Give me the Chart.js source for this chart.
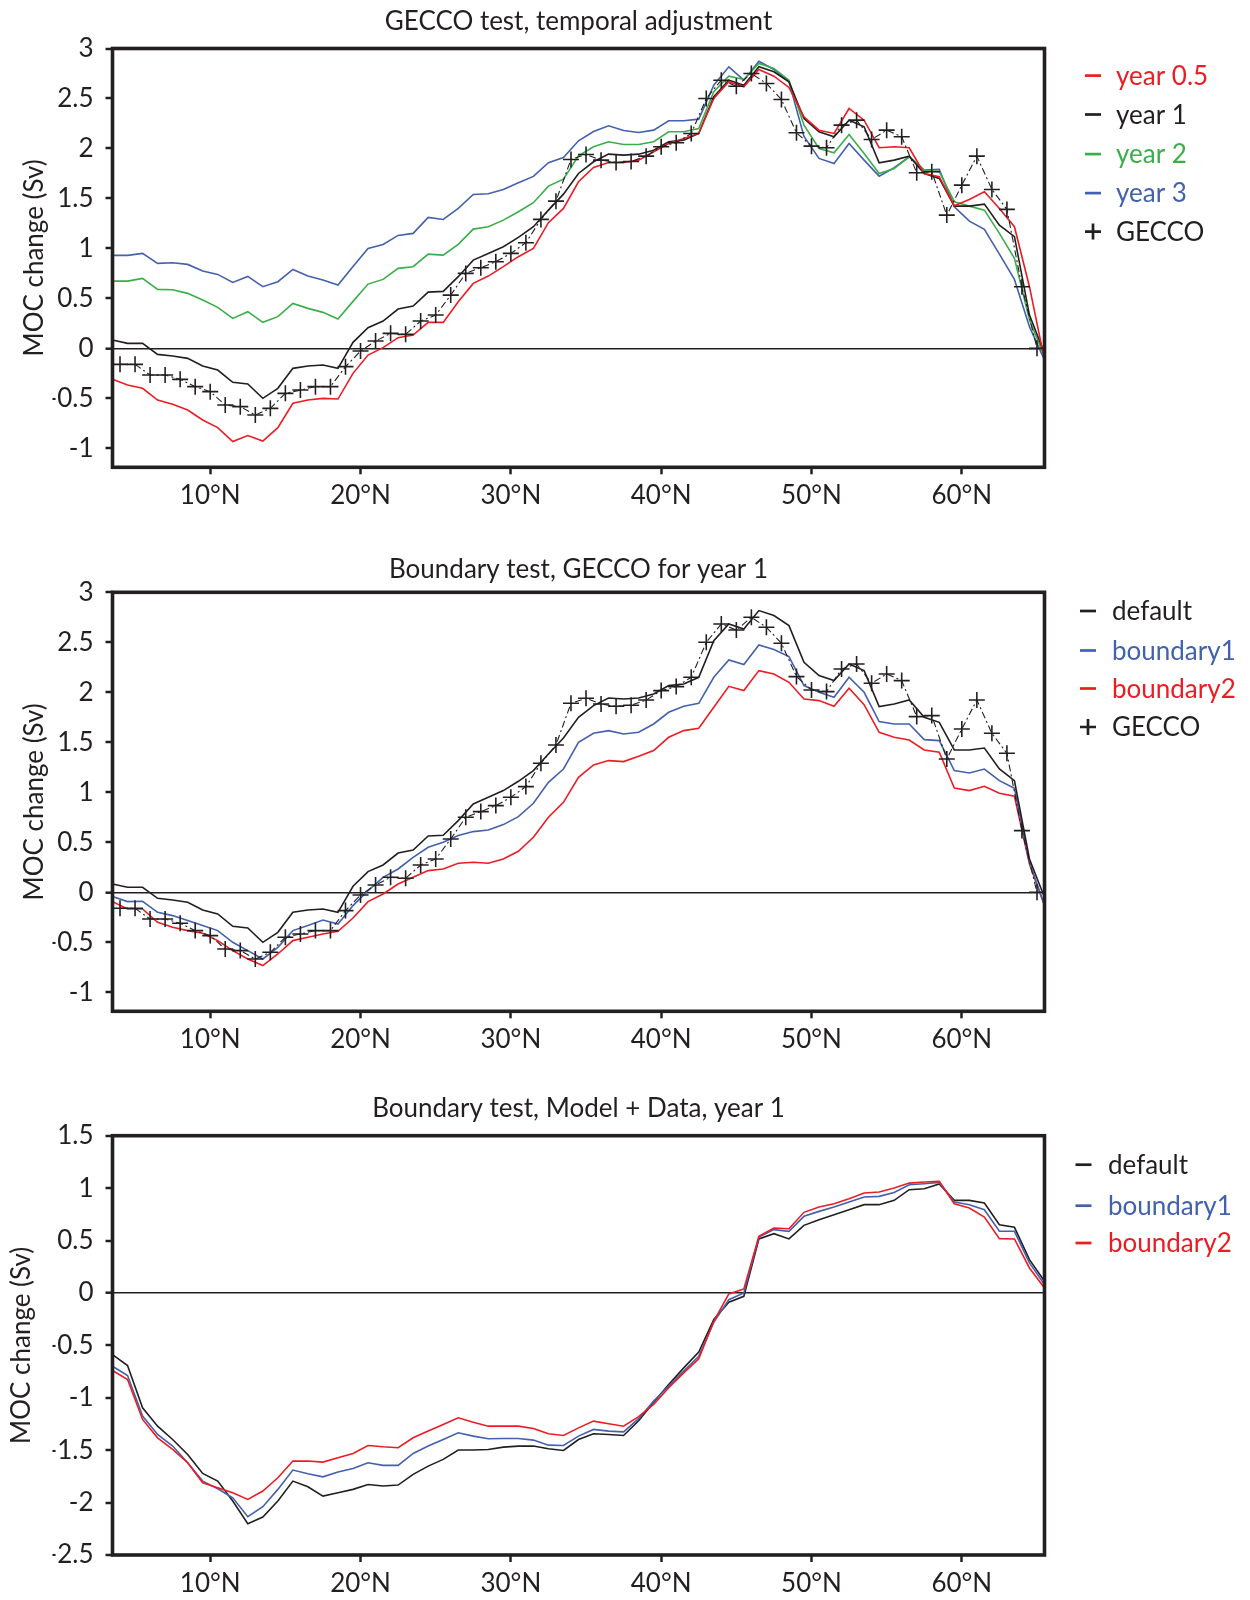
<!DOCTYPE html>
<html>
<head>
<meta charset="utf-8">
<title>MOC change tests</title>
<script src="https://cdn.jsdelivr.net/npm/chart.js@4.4.1/dist/chart.umd.min.js"></script>
<style>
  html, body { margin: 0; padding: 0; background: #ffffff; }
  #wrap { position: relative; width: 1250px; height: 1600px; }
  #wrap canvas { position: absolute; left: 0; }
</style>
</head>
<body>
<div id="wrap">
  <canvas id="c1" width="1250" height="530" style="top:0px;width:1250px;height:530px"></canvas>
  <canvas id="c2" width="1250" height="530" style="top:540px;width:1250px;height:530px"></canvas>
  <canvas id="c3" width="1250" height="530" style="top:1070px;width:1250px;height:530px"></canvas>
</div>
<script>
// ---- latitude grids ----
const latModel = [3.5, 4.5, 5.5, 6.5, 7.5, 8.5, 9.5, 10.5, 11.5, 12.5, 13.5, 14.5, 15.5, 16.5, 17.5, 18.5,
  19.5, 20.5, 21.5, 22.5, 23.5, 24.5, 25.5, 26.5, 27.5, 28.5, 29.5, 30.5, 31.5, 32.5, 33.5, 34.5, 35.5,
  36.5, 37.5, 38.5, 39.5, 40.5, 41.5, 42.5, 43.5, 44.5, 45.5, 46.5, 47.5, 48.5, 49.5, 50.5, 51.5, 52.5,
  53.5, 54.5, 55.5, 56.5, 57.5, 58.5, 59.5, 60.5, 61.5, 62.5, 63.5, 64.5, 65.5];
const latGecco = [4, 5, 6, 7, 8, 9, 10, 11, 12, 13, 14, 15, 16, 17, 18, 19, 20, 21, 22, 23, 24, 25, 26,
  27, 28, 29, 30, 31, 32, 33, 34, 35, 36, 37, 38, 39, 40, 41, 42, 43, 44, 45, 46, 47, 48, 49, 50, 51,
  52, 53, 54, 55, 56, 57, 58, 59, 60, 61, 62, 63, 64, 65];

// ---- tick labels ----
const xTicks = [10, 20, 30, 40, 50, 60];
const yTicksGecco = [-1, -0.5, 0, 0.5, 1, 1.5, 2, 2.5, 3];
const yTicksModelData = [-2.5, -2, -1.5, -1, -0.5, 0, 0.5, 1, 1.5];

// ---- GECCO test, temporal adjustment (Sv) ----
const year05 = [-0.31, -0.367, -0.40, -0.517, -0.56, -0.617, -0.717, -0.793, -0.933, -0.873, -0.927, -0.793,
  -0.55, -0.517, -0.50, -0.507, -0.25, -0.067, 0.007, 0.107, 0.133, 0.26, 0.26, 0.467, 0.65, 0.723, 0.817,
  0.917, 1.0, 1.257, 1.40, 1.667, 1.81, 1.86, 1.86, 1.883, 1.967, 2.05, 2.1, 2.15, 2.5, 2.667, 2.617, 2.79,
  2.723, 2.61, 2.317, 2.183, 2.15, 2.4, 2.283, 2.007, 2.017, 2.007, 1.75, 1.717, 1.427, 1.49, 1.567, 1.40,
  1.217, 0.617, -0.117];
const year1 = [0.083, 0.05, 0.05, -0.06, -0.077, -0.10, -0.177, -0.217, -0.34, -0.357, -0.50, -0.40, -0.20,
  -0.177, -0.167, -0.20, 0.06, 0.207, 0.273, 0.393, 0.423, 0.563, 0.57, 0.717, 0.883, 0.95, 1.017, 1.11,
  1.217, 1.383, 1.543, 1.75, 1.867, 1.943, 1.933, 1.943, 1.983, 2.067, 2.083, 2.15, 2.517, 2.683, 2.633,
  2.817, 2.767, 2.667, 2.3, 2.167, 2.117, 2.283, 2.217, 1.857, 1.883, 1.923, 1.75, 1.70, 1.423, 1.423,
  1.443, 1.233, 1.117, 0.333, -0.05];
const year2 = [0.673, 0.673, 0.70, 0.59, 0.587, 0.55, 0.483, 0.41, 0.30, 0.367, 0.26, 0.317, 0.45, 0.40,
  0.36, 0.293, 0.47, 0.643, 0.69, 0.80, 0.817, 0.943, 0.933, 1.04, 1.193, 1.217, 1.283, 1.367, 1.457,
  1.623, 1.693, 1.927, 2.017, 2.067, 2.04, 2.04, 2.067, 2.167, 2.167, 2.2, 2.567, 2.723, 2.69, 2.85, 2.8,
  2.683, 2.233, 2.0, 1.957, 2.14, 1.95, 1.75, 1.8, 1.917, 1.783, 1.767, 1.467, 1.423, 1.383, 1.15, 0.9,
  0.283, -0.083];
const year3 = [0.93, 0.93, 0.95, 0.85, 0.857, 0.84, 0.773, 0.74, 0.66, 0.72, 0.617, 0.667, 0.79, 0.723,
  0.683, 0.633, 0.82, 1.0, 1.04, 1.13, 1.15, 1.31, 1.29, 1.4, 1.54, 1.547, 1.59, 1.657, 1.72, 1.857, 1.91,
  2.077, 2.17, 2.227, 2.18, 2.16, 2.183, 2.277, 2.277, 2.293, 2.633, 2.817, 2.683, 2.873, 2.79, 2.667,
  2.12, 1.9, 1.85, 2.05, 1.883, 1.723, 1.807, 1.917, 1.783, 1.79, 1.417, 1.273, 1.19, 0.943, 0.69, 0.217,
  -0.117];
const gecco = [-0.16, -0.16, -0.267, -0.267, -0.31, -0.383, -0.433, -0.567, -0.583, -0.667, -0.60, -0.45,
  -0.417, -0.383, -0.383, -0.183, -0.027, 0.073, 0.15, 0.14, 0.273, 0.333, 0.533, 0.75, 0.807, 0.867, 0.95,
  1.057, 1.29, 1.473, 1.89, 1.94, 1.883, 1.86, 1.87, 1.923, 2.017, 2.057, 2.15, 2.5, 2.683, 2.623, 2.75,
  2.65, 2.49, 2.157, 2.023, 2.007, 2.233, 2.283, 2.09, 2.183, 2.117, 1.757, 1.767, 1.333, 1.633, 1.923,
  1.59, 1.39, 0.617, 0.0];

// ---- Boundary test, GECCO for year 1 (Sv); "default" is year1 ----
const boundary1Gecco = [-0.043, -0.093, -0.09, -0.2, -0.233, -0.283, -0.333, -0.383, -0.5, -0.583, -0.667,
  -0.55, -0.383, -0.333, -0.277, -0.317, -0.133, 0.017, 0.15, 0.233, 0.35, 0.45, 0.5, 0.567, 0.607, 0.623,
  0.677, 0.757, 0.89, 1.1, 1.233, 1.5, 1.59, 1.617, 1.583, 1.6, 1.683, 1.8, 1.86, 1.89, 2.15, 2.323, 2.277,
  2.473, 2.427, 2.357, 2.067, 2.0, 1.95, 2.15, 2.0, 1.707, 1.683, 1.683, 1.527, 1.517, 1.217, 1.193, 1.233,
  1.117, 1.04, 0.3, -0.133];
const boundary2Gecco = [-0.093, -0.167, -0.167, -0.3, -0.35, -0.383, -0.41, -0.483, -0.583, -0.667, -0.733,
  -0.617, -0.483, -0.45, -0.417, -0.39, -0.257, -0.093, -0.017, 0.083, 0.15, 0.217, 0.233, 0.29, 0.3, 0.29,
  0.333, 0.41, 0.55, 0.75, 0.9, 1.15, 1.273, 1.317, 1.307, 1.36, 1.417, 1.55, 1.617, 1.64, 1.85, 2.06, 2.017,
  2.217, 2.183, 2.1, 1.933, 1.917, 1.86, 2.04, 1.877, 1.6, 1.55, 1.523, 1.423, 1.4, 1.043, 1.017, 1.06,
  0.99, 0.96, 0.283, -0.133];

// ---- Boundary test, Model + Data, year 1 (Sv) ----
const defaultMD = [-0.588, -0.693, -1.096, -1.271, -1.398, -1.541, -1.722, -1.795, -1.985, -2.201, -2.138,
  -1.985, -1.795, -1.849, -1.938, -1.906, -1.874, -1.827, -1.842, -1.833, -1.731, -1.652, -1.588, -1.499,
  -1.499, -1.493, -1.471, -1.461, -1.461, -1.487, -1.503, -1.398, -1.344, -1.35, -1.36, -1.22, -1.042,
  -0.874, -0.715, -0.565, -0.254, -0.089, -0.032, 0.515, 0.565, 0.515, 0.645, 0.699, 0.746, 0.794, 0.842,
  0.842, 0.883, 0.985, 0.994, 1.039, 0.883, 0.883, 0.858, 0.651, 0.626, 0.318, 0.111];
const boundary1MD = [-0.699, -0.788, -1.175, -1.35, -1.461, -1.62, -1.795, -1.868, -1.954, -2.135, -2.039,
  -1.874, -1.69, -1.725, -1.754, -1.709, -1.674, -1.62, -1.645, -1.645, -1.531, -1.461, -1.398, -1.334,
  -1.366, -1.391, -1.388, -1.388, -1.404, -1.452, -1.455, -1.366, -1.302, -1.318, -1.325, -1.2, -1.032,
  -0.889, -0.746, -0.604, -0.28, -0.064, 0.0, 0.534, 0.604, 0.588, 0.731, 0.778, 0.82, 0.867, 0.915, 0.921,
  0.959, 1.032, 1.042, 1.055, 0.867, 0.842, 0.794, 0.588, 0.588, 0.286, 0.079];
const boundary2MD = [-0.74, -0.826, -1.207, -1.382, -1.493, -1.62, -1.811, -1.858, -1.906, -1.97, -1.89,
  -1.763, -1.604, -1.604, -1.614, -1.572, -1.531, -1.455, -1.468, -1.477, -1.382, -1.318, -1.255, -1.191,
  -1.233, -1.271, -1.271, -1.271, -1.293, -1.344, -1.36, -1.287, -1.223, -1.248, -1.271, -1.18, -1.064,
  -0.905, -0.762, -0.629, -0.27, -0.01, 0.038, 0.54, 0.619, 0.613, 0.769, 0.82, 0.851, 0.899, 0.953, 0.963,
  1.001, 1.048, 1.058, 1.064, 0.851, 0.81, 0.724, 0.518, 0.515, 0.238, 0.048];

// ---- styling ----
const INK = '#231f20';
const RED = '#ed1c24';
const BLUE = '#4361ac';
const GREEN = '#3aae49';
const FONT = 'Lato, "Open Sans", sans-serif';
const FS = 26;
const CAP = FS * 0.72;

const pts = (xs, ys) => xs.map((x, i) => ({ x, y: ys[i] }));

function modelLine(label, lats, vals, color, order) {
  return {
    label, data: pts(lats, vals), borderColor: color, backgroundColor: color,
    borderWidth: 1.6, pointRadius: 0, tension: 0, fill: false, order, legendColor: color
  };
}
function geccoLine(label) {
  return {
    label, data: pts(latGecco, gecco), borderColor: INK, backgroundColor: INK,
    borderWidth: 1.1, borderDash: [7, 3, 2, 3], pointStyle: 'cross', pointRadius: 8,
    pointBorderWidth: 1.6, pointBorderColor: INK, tension: 0, fill: false, order: 0,
    legendColor: INK, legendMark: 'plus'
  };
}

// frame, zero line is a grid line; titles, axis title and legend are drawn here
const panelDecor = {
  id: 'panelDecor',
  afterDatasetsDraw(chart) {
    const { ctx, chartArea: a } = chart;
    ctx.save();
    ctx.strokeStyle = INK;
    ctx.lineWidth = 3.6;
    ctx.strokeRect(a.left, a.top, a.right - a.left, a.bottom - a.top);
    ctx.restore();
  },
  afterDraw(chart, args, o) {
    const { ctx, chartArea: a } = chart;
    ctx.save();
    ctx.font = FS + 'px ' + FONT;
    ctx.fillStyle = INK;
    ctx.textAlign = 'center';
    ctx.textBaseline = 'alphabetic';
    ctx.fillText(o.title, (a.left + a.right) / 2, o.titleY + CAP / 2);

    ctx.save();
    ctx.translate(o.axisX, (a.top + a.bottom) / 2);
    ctx.rotate(-Math.PI / 2);
    ctx.fillText(o.axisTitle, 0, CAP / 2);
    ctx.restore();

    ctx.textAlign = 'left';
    chart.data.datasets.forEach((ds, i) => {
      const y = o.legendY[i];
      ctx.strokeStyle = ds.legendColor;
      ctx.lineWidth = 2.7;
      ctx.beginPath();
      ctx.moveTo(o.markX, y);
      ctx.lineTo(o.markX + 16, y);
      if (ds.legendMark === 'plus') {
        ctx.moveTo(o.markX + 8, y - 8);
        ctx.lineTo(o.markX + 8, y + 8);
      }
      ctx.stroke();
      ctx.fillStyle = ds.legendColor;
      ctx.fillText(ds.label, o.textX, y + CAP / 2);
    });
    ctx.restore();
  }
};

function makeChart(id, cfg) {
  return new Chart(document.getElementById(id), {
    type: 'line',
    data: { datasets: cfg.datasets },
    options: {
      responsive: false,
      animation: false,
      events: [],
      layout: { padding: cfg.padding },
      plugins: {
        legend: { display: false },
        tooltip: { enabled: false },
        title: { display: false },
        panelDecor: cfg.decor
      },
      scales: {
        x: {
          type: 'linear', min: 3.5, max: 65.5,
          afterBuildTicks: s => { s.ticks = xTicks.map(v => ({ value: v })); },
          afterFit: s => { s.height = cfg.xHeight; },
          border: { display: false },
          grid: { drawOnChartArea: false, drawTicks: true, tickLength: 7, tickWidth: 2.5, tickColor: INK },
          ticks: {
            font: { family: FONT, size: FS }, color: INK, padding: 6,
            maxRotation: 0, autoSkip: false, callback: v => v + '°N'
          }
        },
        y: {
          type: 'linear', min: cfg.yMin, max: cfg.yMax,
          afterBuildTicks: s => { s.ticks = cfg.yTicks.map(v => ({ value: v })); },
          afterFit: s => { s.width = 60; },
          border: { display: false },
          grid: {
            color: c => (c.tick && c.tick.value === 0) ? INK : 'rgba(0,0,0,0)',
            lineWidth: c => (c.tick && c.tick.value === 0) ? 1.4 : 0,
            drawTicks: true, tickLength: 7, tickWidth: 2.5, tickColor: INK
          },
          ticks: {
            font: { family: FONT, size: FS }, color: INK, padding: 12,
            autoSkip: false, callback: v => String(v)
          }
        }
      }
    },
    plugins: [panelDecor]
  });
}

function build() {
  makeChart('c1', {
    datasets: [
      modelLine('year 0.5', latModel, year05, RED, 1),
      modelLine('year 1', latModel, year1, INK, 2),
      modelLine('year 2', latModel, year2, GREEN, 3),
      modelLine('year 3', latModel, year3, BLUE, 4),
      geccoLine('GECCO')
    ],
    padding: { left: 52.5, right: 205.5, top: 48.5, bottom: 12.7 },
    xHeight: 50, yMin: -1.19, yMax: 3, yTicks: yTicksGecco,
    decor: {
      title: 'GECCO test, temporal adjustment', titleY: 20.5,
      axisTitle: 'MOC change (Sv)', axisX: 34,
      legendY: [75.6, 114.5, 154.1, 193.1, 231.6], markX: 1085, textX: 1116
    }
  });

  makeChart('c2', {
    datasets: [
      modelLine('default', latModel, year1, INK, 1),
      modelLine('boundary1', latModel, boundary1Gecco, BLUE, 2),
      modelLine('boundary2', latModel, boundary2Gecco, RED, 3),
      geccoLine('GECCO')
    ],
    padding: { left: 52.5, right: 205.5, top: 52.3, bottom: 8.7 },
    xHeight: 50, yMin: -1.19, yMax: 3, yTicks: yTicksGecco,
    decor: {
      title: 'Boundary test, GECCO for year 1', titleY: 28.2,
      axisTitle: 'MOC change (Sv)', axisX: 34,
      legendY: [71, 110.5, 148.5, 187], markX: 1080, textX: 1112
    }
  });

  makeChart('c3', {
    datasets: [
      modelLine('default', latModel, defaultMD, INK, 3),
      modelLine('boundary1', latModel, boundary1MD, BLUE, 2),
      modelLine('boundary2', latModel, boundary2MD, RED, 1)
    ],
    padding: { left: 52.5, right: 205.5, top: 65.7, bottom: 5 },
    xHeight: 40, yMin: -2.5, yMax: 1.5, yTicks: yTicksModelData,
    decor: {
      title: 'Boundary test, Model + Data, year 1', titleY: 38,
      axisTitle: 'MOC change (Sv)', axisX: 21,
      legendY: [94.7, 135.7, 173], markX: 1075.5, textX: 1108
    }
  });
}

if (document.fonts && document.fonts.load) {
  Promise.all([document.fonts.load(FS + 'px Lato')]).then(build, build);
} else {
  build();
}
</script>
</body>
</html>
